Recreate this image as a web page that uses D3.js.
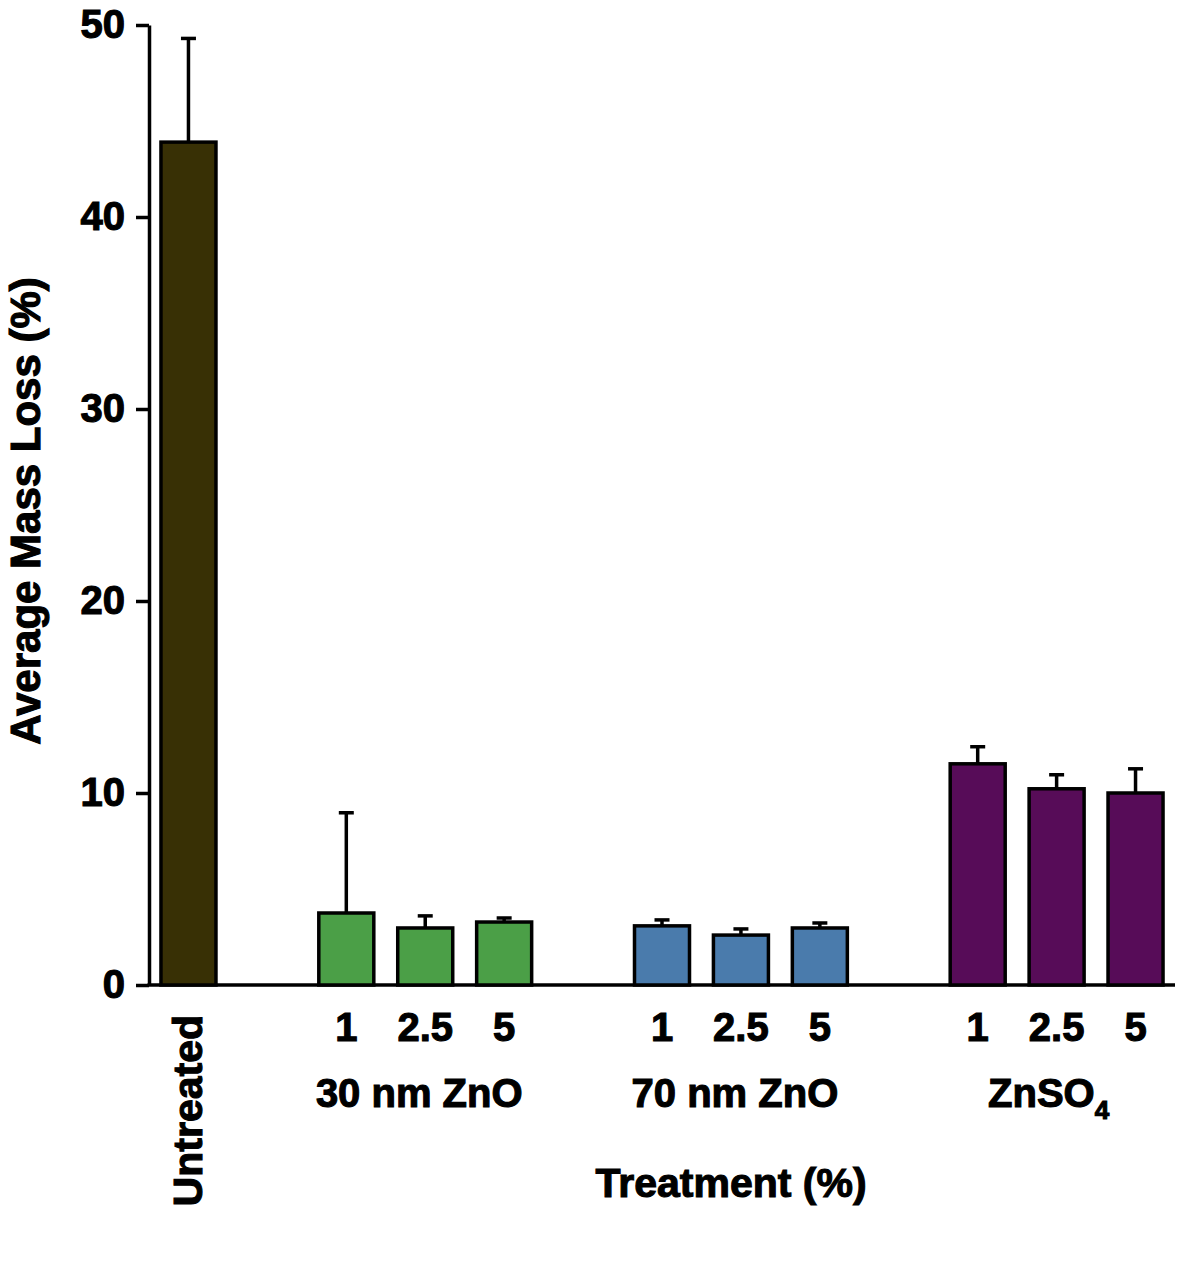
<!DOCTYPE html>
<html><head><meta charset="utf-8">
<script src="https://cdn.jsdelivr.net/npm/d3@7"></script>
<style>body{margin:0;background:#fff}svg{display:block;font-family:"Liberation Sans",Arial,sans-serif;font-weight:bold}
svg text{stroke:#000;stroke-width:1.1px;paint-order:stroke fill}</style>
</head><body>
<svg id="chart" width="1200" height="1277"></svg>
<script>
// slot keys (gaps included so groups are separated)
const slots = ["U","g1a","A1","A2","A3","g2a","B1","B2","B3","g3a","C1","C2","C3"];
const barKeys = ["U","A1","A2","A3","B1","B2","B3","C1","C2","C3"];
const barGroups = ["Untreated","30nm","30nm","30nm","70nm","70nm","70nm","ZnSO4","ZnSO4","ZnSO4"];
const doseLabels = ["","1","2.5","5","1","2.5","5","1","2.5","5"];
const means = [43.9, 3.75, 2.97, 3.28, 3.08, 2.6, 2.97, 11.52, 10.22, 10.0];
const errors = [5.4, 5.22, 0.63, 0.21, 0.31, 0.32, 0.26, 0.89, 0.73, 1.26];
const yTicks = [0,10,20,30,40,50];
const groupNames = ["Untreated","30nm","70nm","ZnSO4"];
const groupColors = ["#383005","#4b9f47","#4a7bac","#570c58"];
const groupLabelSlots = [["30 nm ZnO","A2"],["70 nm ZnO","B2"]];

const svg = d3.select("#chart");
const x = d3.scaleBand().domain(slots).range([149,1175]).paddingInner(0).paddingOuter(0);
const y = d3.scaleLinear().domain([0,50]).range([985,25]);
const color = d3.scaleOrdinal().domain(groupNames).range(groupColors);
const barW = 55;
const SW = 3.5;

// y axis
const yAxis = svg.append("g").attr("transform","translate(149,0)")
  .call(d3.axisLeft(y).tickValues(yTicks).tickSize(13).tickPadding(11).tickSizeOuter(0));
yAxis.select(".domain").attr("stroke","#000").attr("stroke-width",SW);
yAxis.selectAll(".tick line").attr("stroke","#000").attr("stroke-width",SW);
yAxis.selectAll(".tick text").attr("font-size",40).attr("font-weight","bold").attr("fill","#000")
  .attr("font-family","Liberation Sans, Arial, sans-serif");

// x baseline
svg.append("line").attr("x1",147.5).attr("x2",1175).attr("y1",y(0)).attr("y2",y(0))
  .attr("stroke","#000").attr("stroke-width",SW);

const data = barKeys.map((k,i)=>({k, g:barGroups[i], m:means[i], e:errors[i], d:doseLabels[i]}));

// error bars (upper only)
const cx = d => x(d.k) + x.bandwidth()/2;
svg.selectAll(".err").data(data).join("line")
  .attr("x1",cx).attr("x2",cx).attr("y1",d=>y(d.m)).attr("y2",d=>y(d.m+d.e))
  .attr("stroke","#000").attr("stroke-width",SW);
svg.selectAll(".cap").data(data).join("line")
  .attr("x1",d=>cx(d)-7.5).attr("x2",d=>cx(d)+7.5).attr("y1",d=>y(d.m+d.e)).attr("y2",d=>y(d.m+d.e))
  .attr("stroke","#000").attr("stroke-width",SW);

// bars
svg.selectAll(".bar").data(data).join("rect")
  .attr("x",d=>cx(d)-barW/2).attr("width",barW)
  .attr("y",d=>y(d.m)).attr("height",d=>y(0)-y(d.m))
  .attr("fill",d=>color(d.g)).attr("stroke","#000").attr("stroke-width",SW);

// dose labels
svg.selectAll(".dose").data(data.filter(d=>d.d)).join("text")
  .attr("x",cx).attr("y",1041).attr("text-anchor","middle")
  .attr("font-size",40).attr("fill","#000").text(d=>d.d);

// group labels
groupLabelSlots.forEach(([t,s])=>{
  svg.append("text").attr("x",x(s)+x.bandwidth()/2-6).attr("y",1107).attr("text-anchor","middle")
    .attr("font-size",40).attr("fill","#000").text(t);
});
const zn = svg.append("text").attr("x",x("C2")+x.bandwidth()/2-8).attr("y",1107).attr("text-anchor","middle")
  .attr("font-size",40).attr("fill","#000");
zn.append("tspan").text("ZnSO");
zn.append("tspan").attr("font-size",26).attr("dy",12).text("4");

// Untreated rotated
svg.append("text").attr("transform",`translate(${x("U")+x.bandwidth()/2+14},1015) rotate(-90)`)
  .attr("text-anchor","end").attr("font-size",41).attr("fill","#000").text("Untreated");

// axis titles
svg.append("text").attr("x",731).attr("y",1197).attr("text-anchor","middle")
  .attr("font-size",41).attr("fill","#000").text("Treatment (%)");
svg.append("text").attr("transform","translate(40,511) rotate(-90)").attr("text-anchor","middle")
  .attr("font-size",42).attr("fill","#000").text("Average Mass Loss (%)");
</script>
</body></html>
